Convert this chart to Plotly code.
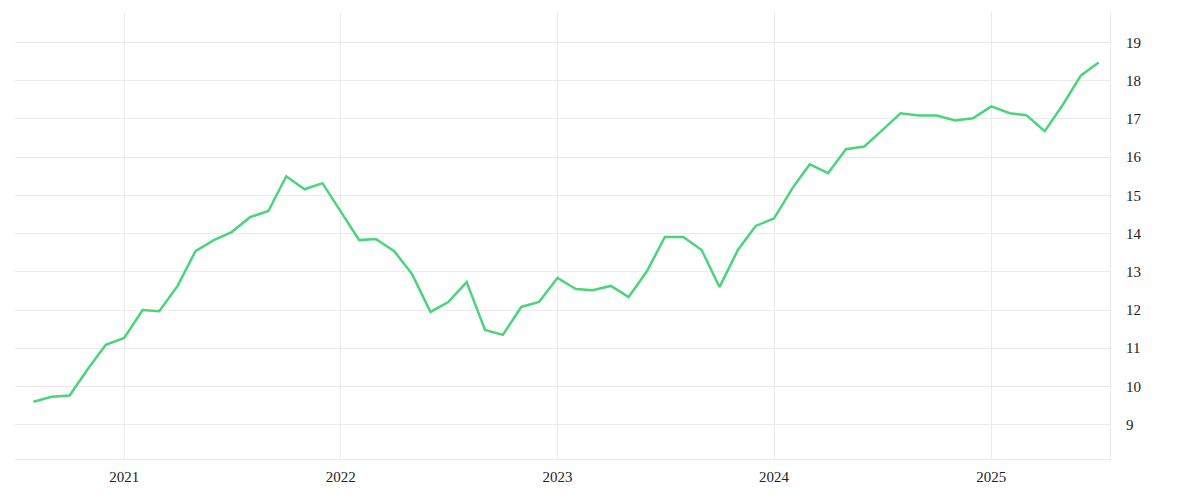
import pandas as pd
import plotly.graph_objects as go

# monthly values, Aug 2020 - Jul 2025
months = pd.date_range('2020-08-01', '2025-07-01', freq='MS')
values = [9.6, 9.73, 9.76, 10.46, 11.09,
          11.27, 12.0, 11.97, 12.63, 13.54, 13.83, 14.04, 14.43, 14.59, 15.5, 15.16, 15.32,
          14.59, 13.83, 13.86, 13.54, 12.94, 11.95, 12.21, 12.73, 11.48, 11.35, 12.08, 12.21,
          12.84, 12.55, 12.52, 12.63, 12.34, 13.02, 13.91, 13.91, 13.57, 12.6, 13.57, 14.2,
          14.4, 15.19, 15.81, 15.58, 16.21, 16.28, 16.7, 17.15, 17.09, 17.09, 16.96, 17.02,
          17.33, 17.15, 17.1, 16.68, 17.36, 18.14, 18.48]
y_ticks = list(range(9, 20))

fig = go.Figure(go.Scatter(x=months, y=values, mode='lines',
                           line=dict(color='#4cd47a', width=2.5)))

grid = '#ebebeb'
fig.update_layout(
    width=1200, height=500, plot_bgcolor='white', paper_bgcolor='white',
    margin=dict(l=7, r=98, t=4, b=49), showlegend=False,
    font=dict(family='Liberation Serif', size=15, color='#222'),
    xaxis=dict(range=['2020-07-01', '2025-07-20'], showgrid=True, gridcolor=grid,
               showline=True, linecolor=grid, dtick='M12', tickformat='%Y',
               ticks='', zeroline=False, ticklabelstandoff=4),
    yaxis=dict(side='right', range=[8.1, 19.8], tickvals=y_ticks, showgrid=True,
               gridcolor=grid, showline=True, linecolor=grid, zeroline=False,
               ticklabelstandoff=12),
)

fig.write_html('out.html')
